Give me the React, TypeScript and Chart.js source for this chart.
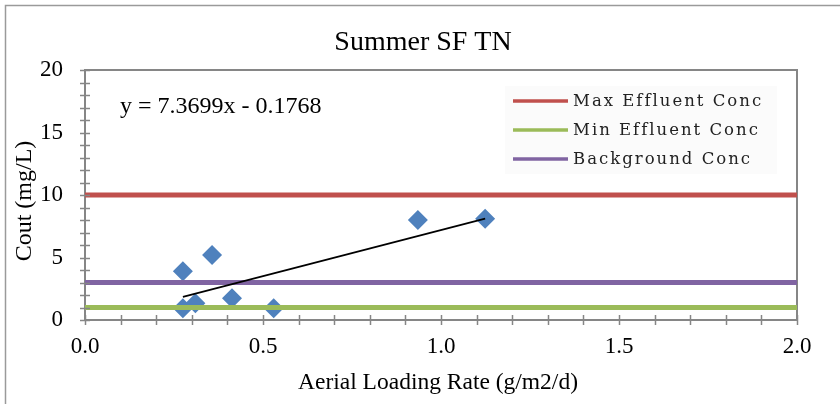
import React, { useEffect, useRef } from "react";
import { Chart, registerables } from "chart.js";

Chart.register(...registerables);

const TITLE = "Summer SF TN";
const X_TITLE = "Aerial Loading Rate (g/m2/d)";
const Y_TITLE = "Cout (mg/L)";
const EQUATION = "y = 7.3699x - 0.1768";

const pointsX = [0.275, 0.275, 0.31, 0.357, 0.413, 0.53, 0.935, 1.124];
const pointsY = [0.95, 3.9, 1.35, 5.2, 1.75, 0.95, 8.0, 8.1];

const trendX = [0.275, 1.124];
const trendY = [1.85, 8.11];

const refLabels = ["Max Effluent Conc", "Min Effluent Conc", "Background Conc"];
const refValues = [10, 1, 3];
const refColors = ["#C0504D", "#9BBB59", "#8064A2"];
const refRangeX = [0, 2];

const xRange = [0, 2];
const yRange = [0, 20];
const xMajorStep = 0.5;
const xMinorStep = 0.1;
const yMajorStep = 5;
const yMinorStep = 1;

const SERIF = "'Liberation Serif', 'Times New Roman', serif";
const AXIS_GRAY = "#868686";

const decorPlugin = {
  id: "decor",
  beforeDraw(chart: any) {
    const { ctx, chartArea } = chart;
    ctx.save();
    ctx.strokeStyle = "#9a9a9a";
    ctx.lineWidth = 1.5;
    ctx.beginPath();
    ctx.moveTo(5.5, 404);
    ctx.lineTo(5.5, 5.5);
    ctx.lineTo(840, 5.5);
    ctx.stroke();
    ctx.fillStyle = "rgba(248,248,248,0.6)";
    ctx.fillRect(505, 86, 272, 88);
    ctx.strokeStyle = AXIS_GRAY;
    ctx.lineWidth = 2;
    ctx.strokeRect(chartArea.left, chartArea.top, chartArea.right - chartArea.left, chartArea.bottom - chartArea.top);
    ctx.restore();
  },
  afterDraw(chart: any) {
    const { ctx, chartArea, scales } = chart;
    const xs = scales.x;
    const ys = scales.y;
    ctx.save();
    ctx.strokeStyle = AXIS_GRAY;
    ctx.lineWidth = 1.5;
    ctx.beginPath();
    const nY = Math.round((yRange[1] - yRange[0]) / yMinorStep);
    for (let i = 0; i <= nY; i++) {
      const py = Math.round(ys.getPixelForValue(yRange[0] + i * yMinorStep)) + 0.5;
      ctx.moveTo(chartArea.left - 5, py);
      ctx.lineTo(chartArea.left + 5, py);
    }
    const nX = Math.round((xRange[1] - xRange[0]) / xMinorStep);
    for (let i = 0; i <= nX; i++) {
      const px = Math.round(xs.getPixelForValue(xRange[0] + i * xMinorStep)) + 0.5;
      ctx.moveTo(px, chartArea.bottom - 5);
      ctx.lineTo(px, chartArea.bottom + 5);
    }
    ctx.stroke();

    ctx.fillStyle = "#000";
    ctx.font = `28px ${SERIF}`;
    ctx.textAlign = "center";
    ctx.textBaseline = "middle";
    ctx.fillText(TITLE, 423, 43);
    ctx.font = `23.5px ${SERIF}`;
    ctx.fillText(X_TITLE, 438, 383);
    ctx.save();
    ctx.translate(25, 201);
    ctx.rotate(-Math.PI / 2);
    ctx.font = `24px ${SERIF}`;
    ctx.fillText(Y_TITLE, 0, 0);
    ctx.restore();
    ctx.font = `24px ${SERIF}`;
    ctx.textAlign = "left";
    ctx.fillText(EQUATION, 120, 107);

    const legY = [101, 130, 159];
    ctx.font = "16.5px 'DejaVu Serif', serif";
    try { (ctx as any).letterSpacing = "2px"; } catch (e) {}
    chart.data.datasets.forEach((ds: any) => {
      if (!ds.legend) return;
      const y = legY[ds.legend - 1];
      ctx.strokeStyle = ds.borderColor;
      ctx.lineWidth = 3.5;
      ctx.beginPath();
      ctx.moveTo(513, y);
      ctx.lineTo(568, y);
      ctx.stroke();
      ctx.fillStyle = "#222";
      ctx.textAlign = "left";
      ctx.textBaseline = "middle";
      ctx.fillText(ds.label, 573, y + 1);
    });
    ctx.restore();
  },
};

export default function App() {
  const ref = useRef<HTMLCanvasElement | null>(null);
  useEffect(() => {
    document.body.style.margin = "0";
    if (!ref.current) return;
    const datasets: any[] = [];
    datasets.push({
      type: "line",
      label: "Linear",
      data: trendX.map((x, i) => ({ x, y: trendY[i] })),
      borderColor: "#000",
      borderWidth: 1.6,
      pointRadius: 0,
      fill: false,
    });
    refLabels.forEach((label, i) => {
      datasets.push({
        type: "line",
        label,
        legend: i + 1,
        data: refRangeX.map((x) => ({ x, y: refValues[i] })),
        borderColor: refColors[i],
        borderWidth: 5,
        pointRadius: 0,
        fill: false,
      });
    });
    datasets.push({
      type: "scatter",
      label: "Data",
      data: pointsX.map((x, i) => ({ x, y: pointsY[i] })),
      backgroundColor: "#4F81BD",
      borderColor: "#4F81BD",
      pointStyle: "rectRot",
      pointRadius: 10,
      borderWidth: 0,
    });
    const chart = new Chart(ref.current, {
      type: "scatter",
      data: { datasets },
      options: {
        responsive: false,
        animation: false,
        devicePixelRatio: 1,
        layout: { padding: { top: 70, right: 43, left: 0, bottom: 0 } },
        plugins: {
          legend: { display: false },
          title: { display: false },
          tooltip: { enabled: false },
        },
        scales: {
          x: {
            type: "linear",
            min: xRange[0],
            max: xRange[1],
            afterFit: (s: any) => { s.height = 84; },
            grid: { display: false, drawTicks: false },
            border: { display: false },
            ticks: {
              stepSize: xMajorStep,
              padding: 13,
              color: "#000",
              font: { family: SERIF, size: 23 },
              callback: (v: any) => Number(v).toFixed(1),
              maxRotation: 0,
            },
          },
          y: {
            type: "linear",
            min: yRange[0],
            max: yRange[1],
            afterFit: (s: any) => { s.width = 85; },
            grid: { display: false, drawTicks: false },
            border: { display: false },
            ticks: {
              stepSize: yMajorStep,
              padding: 22,
              color: "#000",
              font: { family: SERIF, size: 23 },
            },
          },
        },
      },
      plugins: [decorPlugin],
    } as any);
    return () => chart.destroy();
  }, []);
  return (
    <div style={{ position: "absolute", left: 0, top: 0, width: 840, height: 404, background: "#fff" }}>
      <canvas ref={ref} width={840} height={404} style={{ display: "block" }} />
    </div>
  );
}
